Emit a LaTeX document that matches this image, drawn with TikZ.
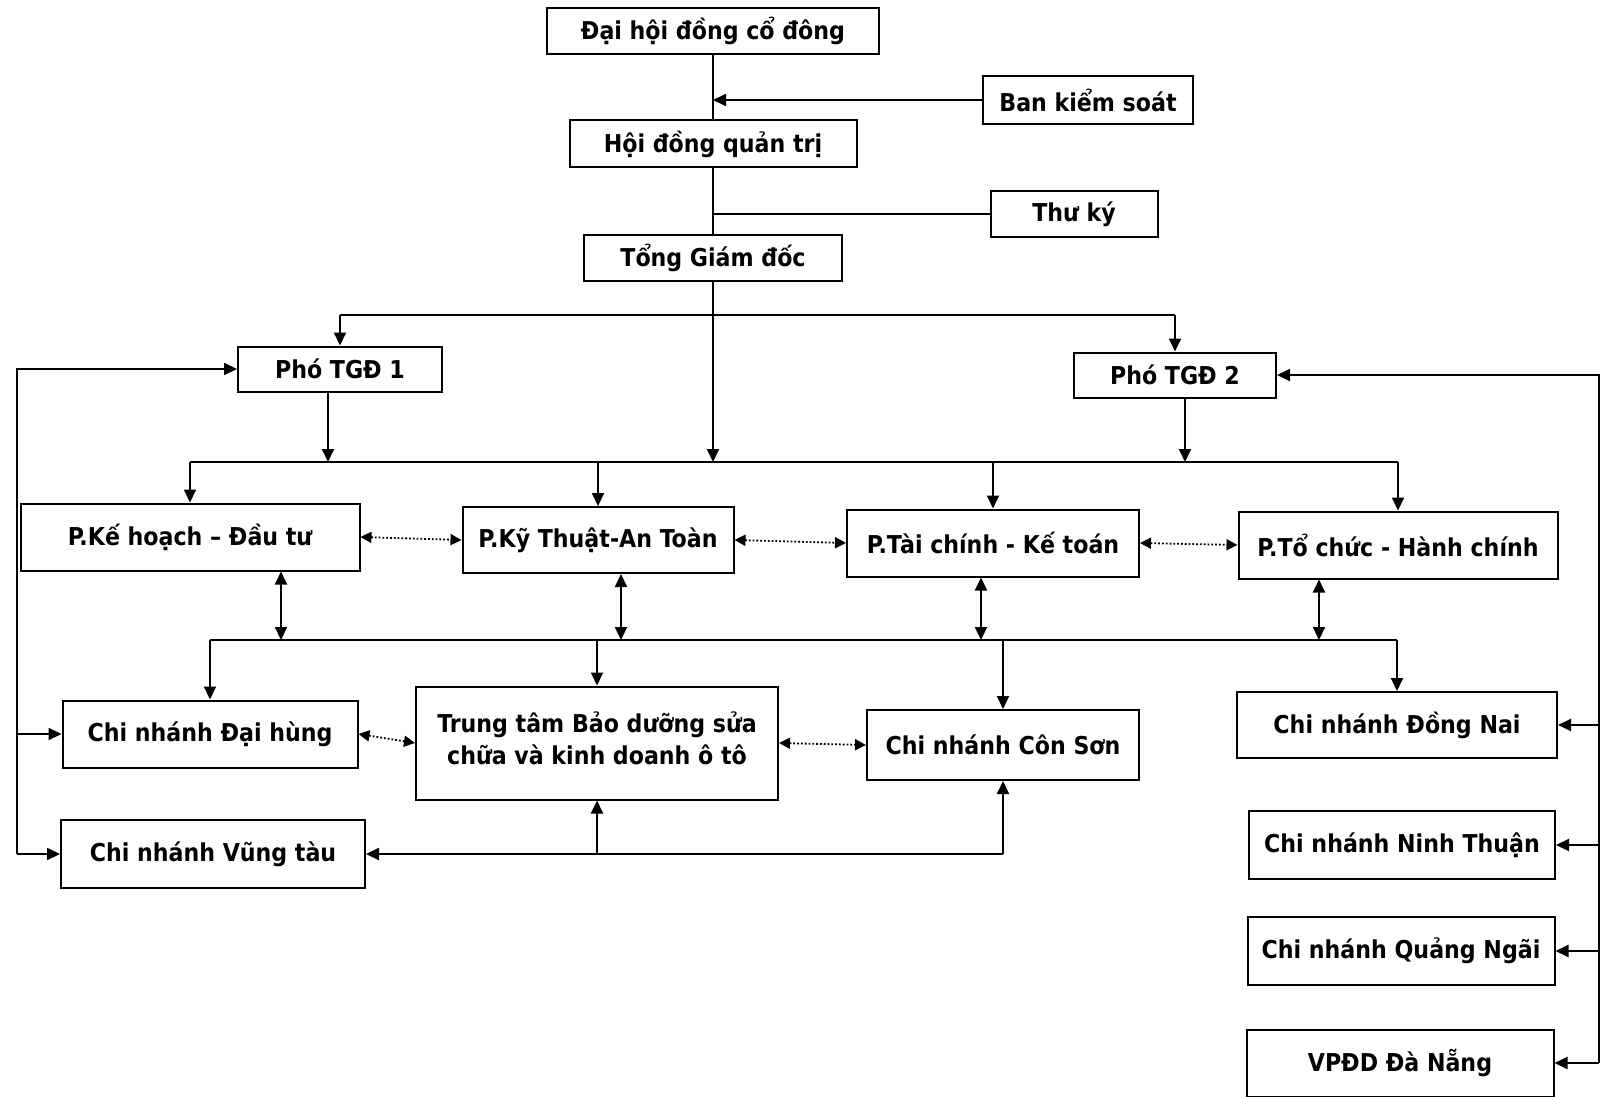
\documentclass[tikz,border=0pt]{standalone}
\usepackage{fontspec}
\setmainfont{DejaVu Sans Condensed}
\usetikzlibrary{arrows.meta}

\tikzset{
  box/.style n args={2}{draw,line width=1pt,minimum width=#1*0.5pt,minimum height=#2*0.5pt,
    inner sep=0pt,align=center,font=\fontsize{12.3}{16}\selectfont\bfseries},
  ln/.style={line width=1pt},
  arr/.style={ln,-{Triangle[length=6.5pt,width=6pt]}},
  dbl/.style={ln,{Triangle[length=6.5pt,width=6pt]}-{Triangle[length=6.5pt,width=6pt]}},
  dotarr/.style={line width=0.9pt,densely dotted,{Triangle[length=5.5pt,width=5.5pt]}-{Triangle[length=5.5pt,width=5.5pt]}}
}

\begin{document}
\begin{tikzpicture}[x=0.5pt,y=-0.5pt]
\useasboundingbox (0,0) rectangle (1602,1097);

% top of the tree
\node[box={332}{46}] (dhcd) at (713,31) {Đại hội đồng cổ đông};
\node[box={210}{48}] (bks) at (1088,100) {Ban kiểm soát};
\node[box={287}{47}] (hdqt) at (713,144) {Hội đồng quản trị};
\node[box={167}{46}] (thuky) at (1074,214) {Thư ký};
\node[box={258}{46}] (tgd) at (713,258) {Tổng Giám đốc};
\node[box={204}{45}] (pho1) at (340,369) {Phó TGĐ 1};
\node[box={202}{45}] (pho2) at (1175,375) {Phó TGĐ 2};

% phong ban
\node[box={339}{67}] (pkh) at (190,537) {P.Kế hoạch – Đầu tư};
\node[box={271}{66}] (pkt) at (598,540) {P.Kỹ Thuật-An Toàn};
\node[box={292}{67}] (ptc) at (993,543) {P.Tài chính - Kế toán};
\node[box={319}{67}] (ptchc) at (1398,545) {P.Tổ chức - Hành chính};

% chi nhanh
\node[box={295}{67}] (cndh) at (210,734) {Chi nhánh Đại hùng};
\node[box={362}{113},text depth=5pt] (tt) at (597,743) {Trung tâm Bảo dưỡng sửa\\chữa và kinh doanh ô tô};
\node[box={272}{70}] (cncs) at (1003,745) {Chi nhánh Côn Sơn};
\node[box={320}{66}] (cndn) at (1397,725) {Chi nhánh Đồng Nai};
\node[box={304}{68}] (cnvt) at (213,854) {Chi nhánh Vũng tàu};
\node[box={306}{68}] (cnnt) at (1402,845) {Chi nhánh Ninh Thuận};
\node[box={307}{68}] (cnqn) at (1401,951) {Chi nhánh Quảng Ngãi};
\node[box={307}{67}] (vpdn) at (1400,1063) {VPĐD Đà Nẵng};

\coordinate (t0) at (713,315);
\coordinate (b1) at (713,462);
\coordinate (b2) at (713,640);
\coordinate (lft) at (17,0);
\coordinate (rgt) at (1599,0);

% trunk
\draw[ln] (dhcd) -- (hdqt);
\draw[ln] (hdqt) -- (tgd);
\draw[arr] (bks.west) -- (bks.west -| dhcd.south);
\draw[ln] (thuky.west) -- (thuky.west -| tgd.north);
\draw[arr] (tgd.south) -- (tgd.south |- b1);
\draw[ln] (pho1.north |- t0) -- (pho2.north |- t0);
\draw[arr] (pho1.north |- t0) -- (pho1.north);
\draw[arr] (pho2.north |- t0) -- (pho2.north);
\draw[arr] ([xshift=-6pt]pho1.south) -- ([xshift=-6pt]pho1.south |- b1);
\draw[arr] ([xshift=5pt]pho2.south) -- ([xshift=5pt]pho2.south |- b1);

% bus to phong ban
\draw[ln] (pkh.north |- b1) -- (ptchc.north |- b1);
\foreach \p in {pkh,pkt,ptc,ptchc}
  \draw[arr] (\p.north |- b1) -- (\p.north);
\draw[dotarr] (pkh.east) -- (pkt.west);
\draw[dotarr] (pkt.east) -- (ptc.west);
\draw[dotarr] (ptc.east) -- (ptchc.west);

% phong ban <-> chi nhanh
\draw[dbl] ([xshift=45.5pt]pkh.south) -- ([xshift=45.5pt]pkh.south |- b2);
\draw[dbl] ([xshift=11.5pt]pkt.south) -- ([xshift=11.5pt]pkt.south |- b2);
\draw[dbl] ([xshift=-6pt]ptc.south) -- ([xshift=-6pt]ptc.south |- b2);
\draw[dbl] ([xshift=-39.5pt]ptchc.south) -- ([xshift=-39.5pt]ptchc.south |- b2);
\draw[ln] (cndh.north |- b2) -- (cndn.north |- b2);
\foreach \c in {cndh,tt,cncs,cndn}
  \draw[arr] (\c.north |- b2) -- (\c.north);
\draw[dotarr] (cndh.east) -- (tt.west);
\draw[dotarr] (tt.east) -- (cncs.west);

% bottom line
\draw[arr] (cncs.south |- cnvt.east) -- (cnvt.east);
\draw[arr] (cncs.south |- cnvt.east) -- (cncs.south);
\draw[arr] (tt.south |- cnvt.east) -- (tt.south);

% left side
\draw[arr] (lft |- cnvt.west) -- (lft |- pho1.west) -- (pho1.west);
\draw[arr] (lft |- cnvt.west) -- (cnvt.west);
\draw[arr] (lft |- cndh.west) -- (cndh.west);

% right side
\draw[arr] (rgt |- vpdn.east) -- (rgt |- pho2.east) -- (pho2.east);
\foreach \c in {cndn,cnnt,cnqn,vpdn}
  \draw[arr] (rgt |- \c.east) -- (\c.east);
\end{tikzpicture}
\end{document}
